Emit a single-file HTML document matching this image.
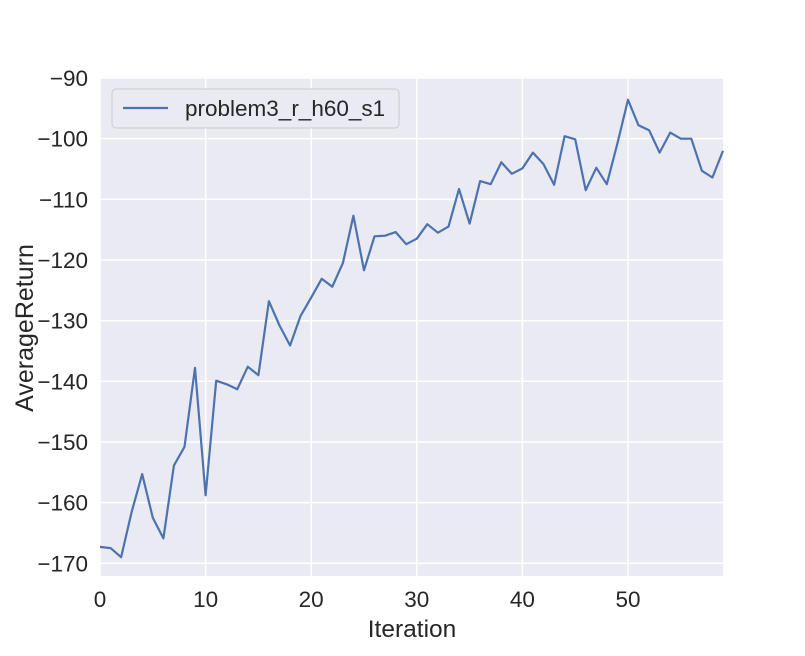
<!DOCTYPE html>
<html><head><meta charset="utf-8"><style>
body{margin:0;background:#fff;}
svg text{font-family:"Liberation Sans","DejaVu Sans",sans-serif;fill:#262626;}
</style></head><body>
<svg id="chart" width="805" height="651">
<rect x="100" y="78" width="623" height="498" fill="#eaeaf2"/>
<g id="grid"></g><g id="ticks"></g>
<path id="line" fill="none" stroke="#4c72b0" stroke-width="2.2" stroke-linejoin="round"/>
<text x="412" y="637" text-anchor="middle" font-size="24.5">Iteration</text>
<text transform="translate(33,328) rotate(-90)" text-anchor="middle" font-size="25">AverageReturn</text>
<g>
<rect x="112" y="89" width="287" height="39" rx="4" fill="#eaeaf2" stroke="#cccccc"/>
<line x1="123" y1="108" x2="168" y2="108" stroke="#4c72b0" stroke-width="2.2"/>
<text x="185" y="116" font-size="22.5">problem3_r_h60_s1</text>
</g>
</svg>
<script>
const iterations=[...Array(60).keys()];
const returns=[-167.3,-167.5,-169,-161.5,-155.3,-162.5,-165.9,-153.9,-150.8,-137.8,-158.8,-139.9,-140.5,-141.3,-137.6,-139,-126.8,-130.8,-134.1,-129.2,-126.2,-123.1,-124.4,-120.5,-112.7,-121.7,-116.1,-116,-115.4,-117.4,-116.5,-114.1,-115.5,-114.5,-108.3,-114,-107,-107.5,-103.9,-105.8,-104.9,-102.3,-104.2,-107.6,-99.6,-100.1,-108.5,-104.8,-107.5,-100.8,-93.6,-97.8,-98.6,-102.3,-99,-100,-100,-105.3,-106.4,-102];
const xTicks=[0,10,20,30,40,50];
const yTicks=[-90,-100,-110,-120,-130,-140,-150,-160,-170];
const X=v=>100+(v-0)/59*623;
const Y=v=>78+(-90-v)/(82.1)*498;
const ns="http://www.w3.org/2000/svg";
const grid=document.getElementById('grid'),ticks=document.getElementById('ticks');
function mk(tag,attrs,parent){const e=document.createElementNS(ns,tag);for(const k in attrs)e.setAttribute(k,attrs[k]);parent.appendChild(e);return e;}
xTicks.forEach(t=>{
 const l=mk('line',{x1:X(t),x2:X(t),y1:78,y2:576,stroke:'#fff','stroke-width':1.5},grid);
 
 
 const tx=mk('text',{x:X(t),y:607,'text-anchor':'middle','font-size':22.5},ticks);
 tx.textContent=t;
 
 
});
yTicks.forEach(t=>{
 const l=mk('line',{x1:100,x2:723,y1:Y(t),y2:Y(t),stroke:'#fff','stroke-width':1.5},grid);
 
 
 const tx=mk('text',{x:88,y:Y(t)+8,'text-anchor':'end','font-size':22.5},ticks);
 tx.textContent='\u2212'+Math.abs(t);
 
 
});
document.getElementById('line').setAttribute('d',returns.map((v,i)=>(i?'L':'M')+X(iterations[i]).toFixed(1)+','+Y(v).toFixed(1)).join(''));
</script>
</body></html>
